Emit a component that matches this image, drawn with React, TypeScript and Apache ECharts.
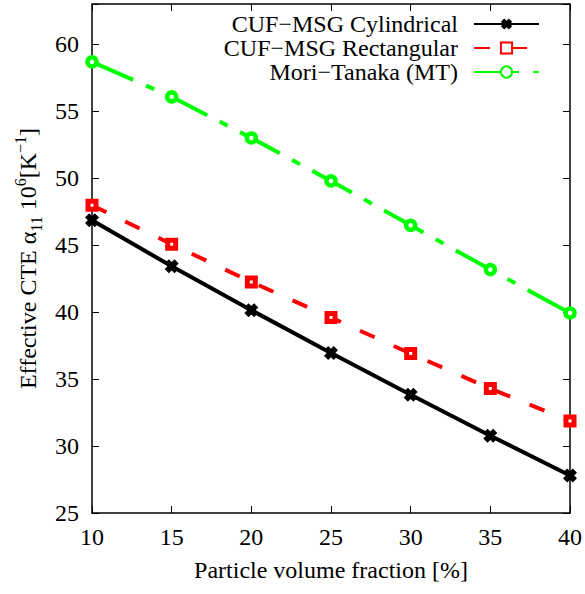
import React, { useEffect, useRef } from "react";
import * as echarts from "echarts";

const xValues = [10, 15, 20, 25, 30, 35, 40];
const cylindrical = [46.86, 43.42, 40.14, 36.95, 33.83, 30.77, 27.8];
const rectangular = [47.98, 45.06, 42.25, 39.59, 36.9, 34.29, 31.86];
const moriTanaka = [58.68, 56.07, 53.0, 49.79, 46.48, 43.17, 39.93];
const seriesNames = ["CUF\u2212MSG Cylindrical", "CUF\u2212MSG Rectangular", "Mori\u2212Tanaka (MT)"];

const FONT = "Liberation Serif";
const FS = 24;
const XSYM = "path://M0,3 L3,0 L5,2 L7,0 L10,3 L8,5 L10,7 L7,10 L5,8 L3,10 L0,7 L2,5 Z";

const pair = (ys: number[]) => xValues.map((x, i) => [x, ys[i]]);

export default function App() {
  const ref = useRef<HTMLDivElement>(null);
  useEffect(() => {
    if (!ref.current) return;
    const chart = echarts.init(ref.current, null, { renderer: "svg" });
    const axisLineStyle = { color: "#000", width: 1.5 };
    const tick = { show: true, inside: true, length: 7, lineStyle: { color: "#000", width: 1 } };
    const legendBase = {
      orient: "vertical" as const,
      right: 45,
      padding: 0,
      align: "right" as const,
      itemWidth: 65,
      itemHeight: 14,
      textStyle: { fontSize: FS, fontFamily: FONT, color: "#000", padding: [0, 11, 0, 0] },
    };
    chart.setOption({
      animation: false,
      backgroundColor: "#fff",
      grid: { left: 92, right: 15, top: 4, bottom: 81 },
      legend: [
        { ...legendBase, top: 12, data: [seriesNames[0]] },
        { ...legendBase, top: 36, data: [seriesNames[1]] },
        { ...legendBase, top: 60, data: [seriesNames[2]] },
      ],
      xAxis: [
        {
          type: "value",
          min: 10,
          max: 40,
          interval: 5,
          name: "Particle volume fraction [%]",
          nameLocation: "middle",
          nameGap: 45,
          nameTextStyle: { fontSize: FS, fontFamily: FONT, color: "#000" },
          axisLine: { show: true, lineStyle: axisLineStyle },
          axisTick: tick,
          axisLabel: { fontSize: FS, fontFamily: FONT, color: "#000", margin: 12 },
          splitLine: { show: false },
        },
        {
          type: "value",
          position: "top",
          min: 10,
          max: 40,
          interval: 5,
          axisLine: { show: true, lineStyle: axisLineStyle },
          axisTick: tick,
          axisLabel: { show: false },
          splitLine: { show: false },
        },
      ],
      yAxis: [
        {
          type: "value",
          min: 25,
          max: 63,
          interval: 5,
          name: "{a|Effective CTE \u03b1}{sub|11}{a| 10}{sup|6}{a|[K}{sup|\u22121}{a|]}",
          nameLocation: "middle",
          nameGap: 45,
          nameTextStyle: {
            fontSize: FS,
            fontFamily: FONT,
            color: "#000",
            rich: {
              a: { fontSize: FS, fontFamily: FONT, color: "#000", lineHeight: 32, verticalAlign: "middle" },
              sub: { fontSize: 16, fontFamily: FONT, color: "#000", lineHeight: 15, verticalAlign: "bottom" },
              sup: { fontSize: 16, fontFamily: FONT, color: "#000", lineHeight: 15, verticalAlign: "top" },
            },
          },
          axisLine: { show: true, lineStyle: axisLineStyle },
          axisTick: tick,
          axisLabel: {
            fontSize: FS,
            fontFamily: FONT,
            color: "#000",
            margin: 13,
            formatter: (v: number) => (v % 5 === 0 ? String(v) : ""),
          },
          splitLine: { show: false },
        },
        {
          type: "value",
          position: "right",
          min: 25,
          max: 63,
          interval: 5,
          axisLine: { show: true, lineStyle: axisLineStyle },
          axisTick: tick,
          axisLabel: { show: false },
          splitLine: { show: false },
        },
      ],
      series: [
        {
          name: seriesNames[0],
          type: "line",
          data: pair(cylindrical),
          symbol: XSYM,
          symbolSize: 14,
          itemStyle: { color: "#000" },
          lineStyle: { color: "#000", width: 4, type: "solid" },
          z: 3,
        },
        {
          name: seriesNames[1],
          type: "line",
          data: pair(rectangular),
          symbol: "rect",
          symbolSize: 8,
          itemStyle: { color: "#fff", borderColor: "#ff0000", borderWidth: 5 },
          lineStyle: { color: "#ff0000", width: 4, type: [16, 21] },
          z: 2,
        },
        {
          name: seriesNames[2],
          type: "line",
          data: pair(moriTanaka),
          symbol: "circle",
          symbolSize: 9,
          itemStyle: { color: "#fff", borderColor: "#00ff00", borderWidth: 4.5 },
          lineStyle: { color: "#00ff00", width: 4, type: [45, 14, 9, 14] },
          z: 1,
        },
      ],
    });
    return () => chart.dispose();
  }, []);
  return (
    <div
      ref={ref}
      style={{ position: "absolute", left: 0, top: 0, width: 585, height: 594, overflow: "visible" }}
    />
  );
}
